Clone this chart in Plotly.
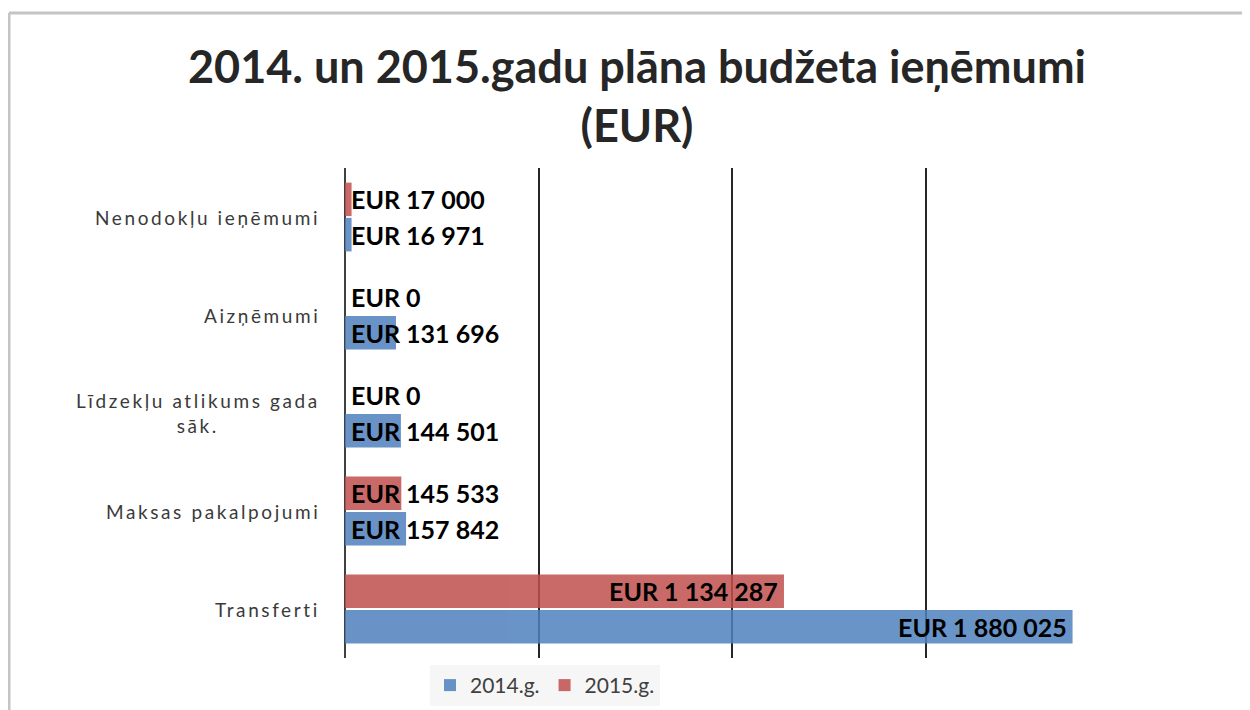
import plotly.graph_objects as go

# ---- data ----
categories = [
    "Nenodokļu ieņēmumi",
    "Aizņēmumi",
    "Līdzekļu atlikums gada<br>sāk.",
    "Maksas pakalpojumi",
    "Transferti",
]
values_2014 = [16971, 131696, 144501, 157842, 1880025]
values_2015 = [17000, 0, 0, 145533, 1134287]
series_names = ["2014.g.", "2015.g."]
title_text = "2014. un 2015.gadu plāna budžeta ieņēmumi<br>(EUR)"

# plotly puts first category at bottom -> reverse
cats = categories[::-1]
v14 = values_2014[::-1]
v15 = values_2015[::-1]

OFF = 8  # page body margin compensation
W, H = 1250, 710
PW, PH = 774, 493
L, T = 345 - OFF, 168 - OFF
R, B = W - L - PW, H - T - PH


def px_to_paper_x(px):
    return (px - OFF - L) / PW


def px_to_paper_y(py):
    return (T + PH - (py - OFF)) / PH


def fmt(v):
    return "EUR " + f"{v:,}".replace(",", " ")


def spaced(label, sp=2.6):
    return "<br>".join(
        f'<span style="letter-spacing:{sp}px">{part}</span>' for part in label.split("<br>")
    )


BLUE = "#4F81BD"
RED = "#C0504D"

fig = go.Figure()
fig.add_trace(go.Bar(y=cats, x=v14, orientation="h", name=series_names[0],
                     marker=dict(color=BLUE, line=dict(width=0)), opacity=0.85))
fig.add_trace(go.Bar(y=cats, x=v15, orientation="h", name=series_names[1],
                     marker=dict(color=RED, line=dict(width=0)), opacity=0.85))

LABEL_FONT = dict(family="Lato", size=25, color="#000000", weight="bold")
annotations = []
for vals, shift in ((v14, -18), (v15, 18)):
    for c, v in zip(cats, vals):
        big = v > 500000
        annotations.append(dict(
            x=v if big else 0, y=c, xref="x", yref="y",
            text=fmt(v), showarrow=False,
            xanchor="right" if big else "left",
            xshift=-4 if big else 4, yshift=shift,
            font=LABEL_FONT,
        ))

for c in cats:
    annotations.append(dict(
        x=px_to_paper_x(322), y=c, xref="paper", yref="y",
        text=spaced(c), showarrow=False, xanchor="right", align="center",
        font=dict(family="Lato", size=19, color="#3A3A3A"),
    ))

shapes = [
    dict(type="line", xref="paper", yref="paper",
         x0=px_to_paper_x(9), x1=px_to_paper_x(1270),
         y0=px_to_paper_y(12), y1=px_to_paper_y(12),
         line=dict(color="#C4C4C4", width=3)),
    dict(type="line", xref="paper", yref="paper",
         x0=px_to_paper_x(9), x1=px_to_paper_x(9),
         y0=px_to_paper_y(12), y1=px_to_paper_y(730),
         line=dict(color="#C4C4C4", width=3)),
]

fig.update_layout(
    width=W, height=H,
    margin=dict(l=L, r=R, t=T, b=B),
    paper_bgcolor="white", plot_bgcolor="white",
    barmode="group", bargap=0.28, bargroupgap=0.05,
    title=dict(text=title_text, x=(637 - OFF) / W, xanchor="center",
               y=0.894, yanchor="top",
               font=dict(family="Lato", size=45, color="#262626", weight="bold")),
    xaxis=dict(range=[0, 2000000], dtick=500000, tick0=0,
               showgrid=True, gridcolor="#262626", gridwidth=2,
               zeroline=True, zerolinecolor="#404040", zerolinewidth=2,
               showticklabels=False, ticks="", showline=False),
    yaxis=dict(showticklabels=False, ticks="", showgrid=False, zeroline=False,
               showline=False),
    legend=dict(orientation="h", x=px_to_paper_x(545), xanchor="center",
                y=px_to_paper_y(668), yanchor="top",
                bgcolor="#F6F6F6", font=dict(family="Lato", size=21, color="#404040"),
                traceorder="normal"),
    annotations=annotations,
    shapes=shapes,
)

fig.write_html("out.html")
